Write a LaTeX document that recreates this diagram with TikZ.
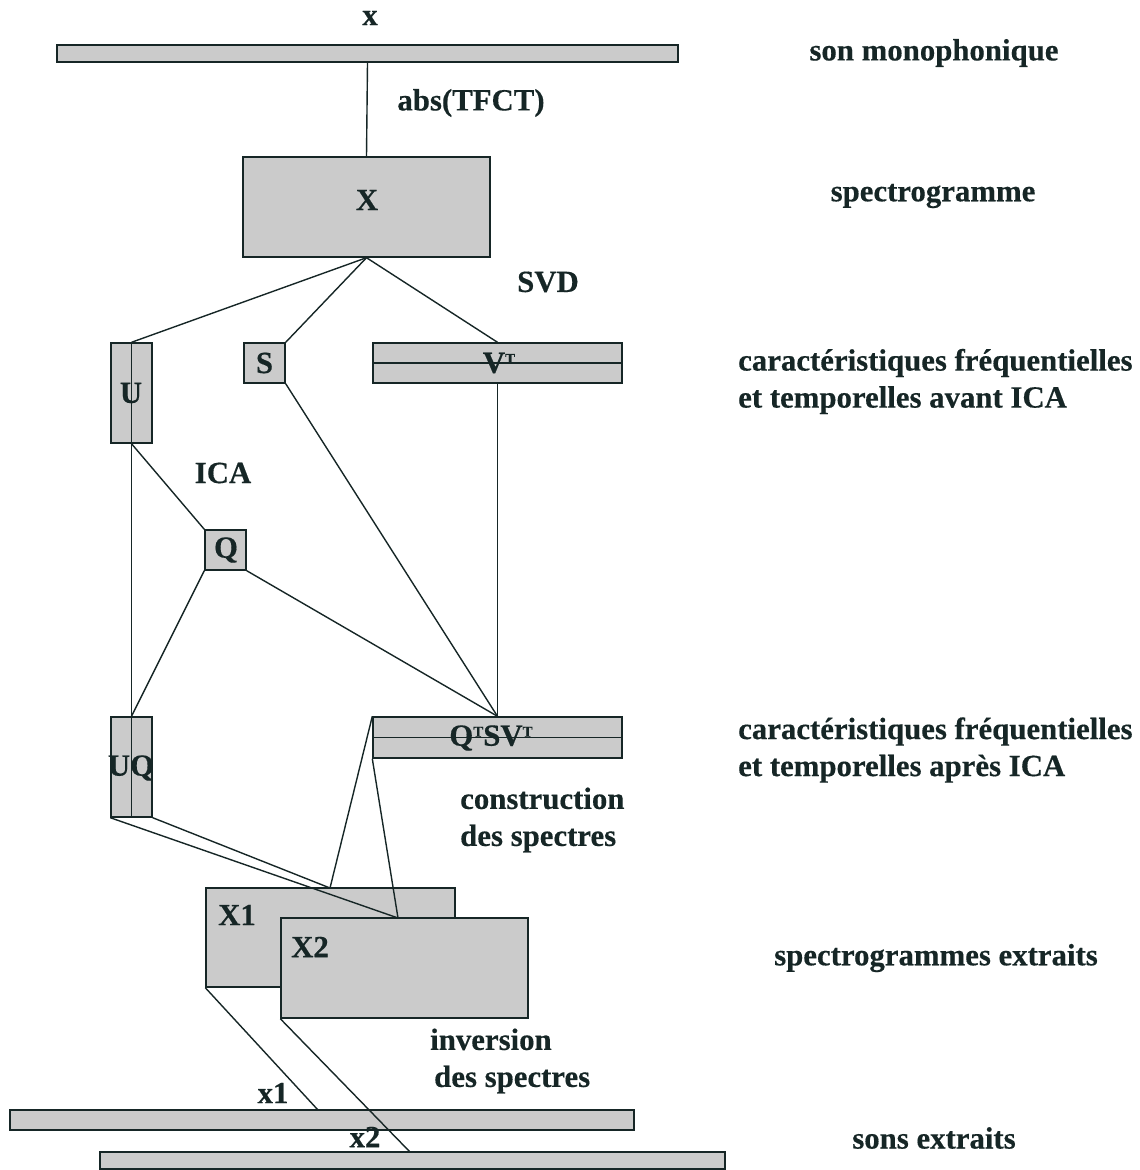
\documentclass[tikz,border=0pt]{standalone}
\usepackage{fontspec}
\setmainfont{Liberation Serif}[BoldFeatures={FakeBold=0.4}]
\definecolor{boxgray}{RGB}{203,203,203}
\definecolor{ink}{RGB}{22,38,38}
\newcommand{\supT}{\raisebox{9pt}{\fontsize{15}{15}\selectfont T}}
\begin{document}
\begin{tikzpicture}[x=1pt,y=-1pt,
  every node/.style={font=\fontsize{30.8}{37}\selectfont\bfseries, text=ink},
  blk/.style={draw=ink, fill=boxgray, line width=1.4pt, inner sep=0pt, minimum width=#1},
  conn/.style={draw=ink, line width=1.4pt},
  lbl/.style={inner sep=0pt},
  side/.style={inner sep=0pt, align=left, anchor=west}]
\useasboundingbox (0,0) rectangle (1140,1170);

% boxes
\node[blk=621pt, minimum height=17pt] (bar0) at (367.5,53.5) {};
\node[blk=247pt, minimum height=100pt] (X) at (366.5,207) {};
\node[blk=41pt, minimum height=100pt] (U) at (131.5,393) {};
\node[blk=41pt, minimum height=40pt] (S) at (264.5,363) {};
\node[blk=249pt, minimum height=40pt] (V) at (497.5,363) {};
\node[blk=41pt, minimum height=40pt] (Q) at (225.5,550) {};
\node[blk=41pt, minimum height=100pt] (UQ) at (131.5,767) {};
\node[blk=249pt, minimum height=41pt] (QSV) at (497.5,737.5) {};
\node[blk=249pt, minimum height=99pt] (X1) at (330.5,937.5) {};
\node[blk=624pt, minimum height=20pt] (bar1) at (322,1120) {};

% inner split lines
\draw[conn] (U.north) -- (U.south);
\draw[conn] (UQ.north) -- (UQ.south);
\draw[conn] (V.west) -- (V.east);
\draw[conn] (QSV.west) -- (QSV.east);

% connection points
\coordinate (x1t) at (330,888);
\coordinate (x2t) at (398,918);
\coordinate (b1t) at (318,1110);
\coordinate (b2t) at (410,1152);

% connectors
\draw[conn] (bar0.south) -- (X.north);
\draw[conn] (X.south) -- (U.north);
\draw[conn] (X.south) -- (S.north east);
\draw[conn] (X.south) -- (V.north);
\draw[conn] (S.south east) -- (QSV.north);
\draw[conn] (V.south) -- (QSV.north);
\draw[conn] (U.south) -- (Q.north west);
\draw[conn] (U.south) -- (UQ.north);
\draw[conn] (Q.south west) -- (UQ.north);
\draw[conn] (Q.south east) -- (QSV.north);
\draw[conn] (UQ.south east) -- (x1t);
\draw[conn] (UQ.south west) -- (x2t);
\draw[conn] (QSV.north west) -- (x1t);
\draw[conn] (QSV.south west) -- (x2t);
\draw[conn] (X1.south west) -- (b1t);

\node[blk=247pt, minimum height=100pt] (X2) at (404.5,968) {};
\node[blk=625pt, minimum height=17pt] (bar2) at (412.5,1160.5) {};
\draw[conn] (X2.south west) -- (b2t);

% labels in / near boxes
\node[lbl] (lx) at (370,18) {x};
\node[lbl] (labs) at (471,103) {abs(TFCT)};
\node[lbl] (lX) at (367,200) {X};
\node[lbl] (lsvd) at (548,282) {SVD};
\node[lbl] (lS) at (264.5,363) {S};
\node[lbl] (lV) at (499,363) {V\supT};
\node[lbl] (lU) at (131,393) {U};
\node[lbl] (lica) at (223,473) {ICA};
\node[lbl] (lQ) at (226,550) {Q};
\node[lbl] (lUQ) at (131,768) {UQ};
\node[lbl] (lQSV) at (491,738) {Q\supT SV\supT};
\node[side] (lcons) at (460,820) {construction\\des spectres};
\node[lbl] (lX1) at (237,915) {X1};
\node[lbl] (lX2) at (310,947) {X2};
\node[side] (linv) at (430,1061) {inversion\\\hspace*{4pt}des spectres};
\node[lbl] (lx1) at (273,1093) {x1};
\node[lbl] (lx2) at (365,1137) {x2};

% right column
\node[lbl] (r1) at (934,53) {son monophonique};
\node[lbl] (r2) at (933,196) {spectrogramme};
\node[side] (r3) at (738,381.5) {caractéristiques fréquentielles\\et temporelles avant ICA};
\node[side] (r4) at (738,750) {caractéristiques fréquentielles\\et temporelles après ICA};
\node[lbl] (r5) at (936,958) {spectrogrammes extraits};
\node[lbl] (r6) at (934,1138) {sons extraits};
\end{tikzpicture}
\end{document}
